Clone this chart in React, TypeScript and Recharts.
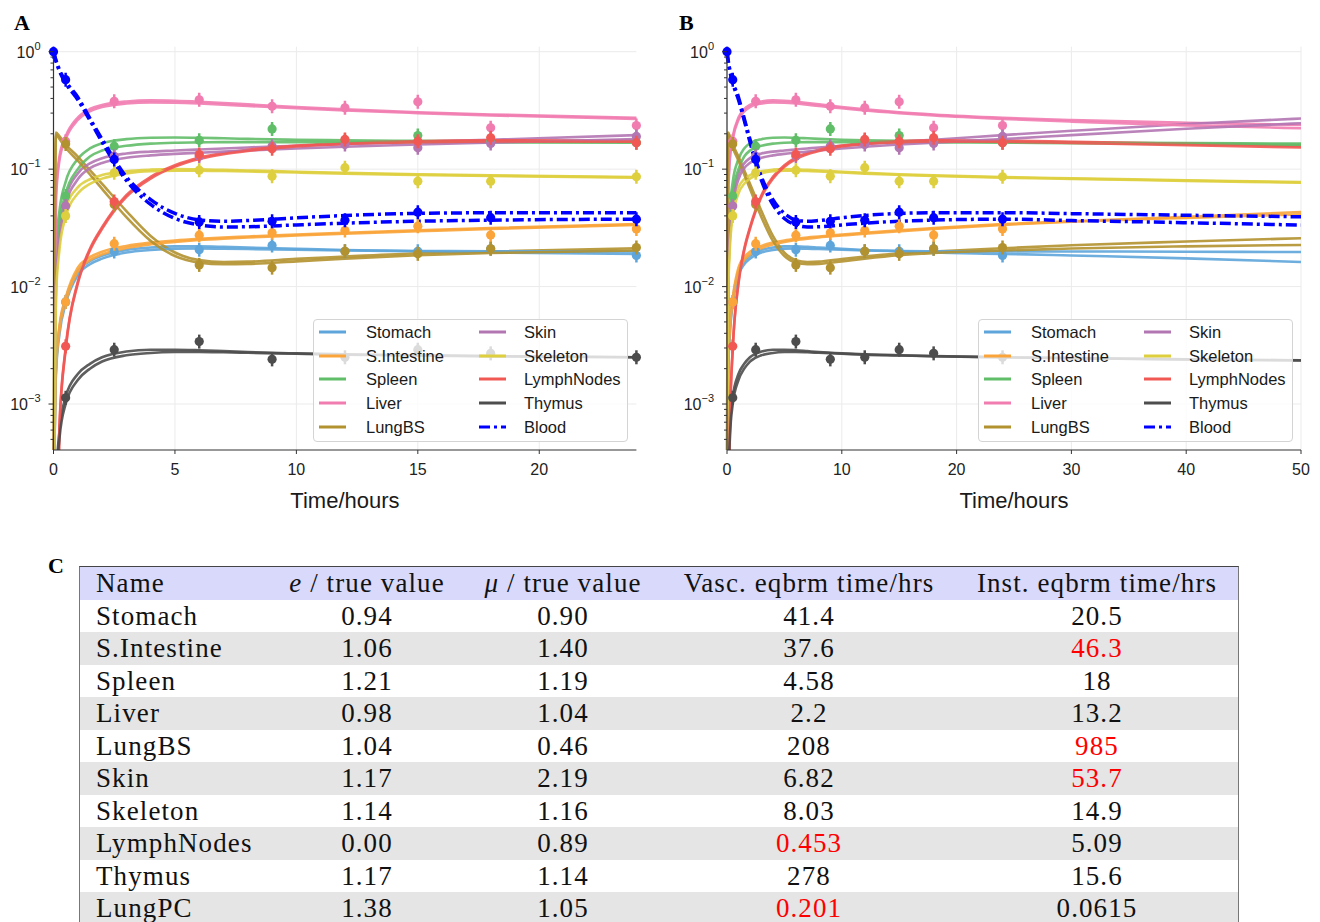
import React from 'react';
import { ComposedChart, Line, Scatter, XAxis, YAxis, CartesianGrid, Legend } from 'recharts';

// ---------- fitted-curve time grid (hours) ----------
const T = [0, 0.1, 0.25, 0.5, 1, 1.5, 2, 3, 4, 5, 6, 7, 8, 10, 12, 15, 18, 24, 30, 40, 50];

const stomach1 = [1e-4, 0.002, 0.0045, 0.0078, 0.0135, 0.0165, 0.0183, 0.0205, 0.0215, 0.022, 0.022, 0.0218, 0.0215, 0.021, 0.0205, 0.02, 0.0195, 0.019, 0.0184, 0.0174, 0.0162];
const stomach2 = [1e-4, 0.0018, 0.004, 0.0071, 0.0125, 0.0155, 0.0173, 0.0195, 0.0205, 0.021, 0.0211, 0.021, 0.0209, 0.0206, 0.0203, 0.0201, 0.02, 0.0199, 0.0199, 0.0198, 0.0197];
const intestine1 = [1e-4, 0.0021, 0.0047, 0.008, 0.0145, 0.0178, 0.0198, 0.0222, 0.0237, 0.0247, 0.0255, 0.0262, 0.0267, 0.0277, 0.0287, 0.0302, 0.0315, 0.034, 0.036, 0.0392, 0.0432];
const intestine2 = [1e-4, 0.0019, 0.0043, 0.0074, 0.0135, 0.0168, 0.0188, 0.0213, 0.0229, 0.024, 0.0249, 0.0256, 0.0262, 0.0272, 0.0282, 0.0296, 0.031, 0.0335, 0.0356, 0.0385, 0.0412];
const spleen1 = [1e-4, 0.02, 0.045, 0.078, 0.122, 0.15, 0.166, 0.18, 0.185, 0.186, 0.185, 0.183, 0.181, 0.178, 0.176, 0.174, 0.173, 0.171, 0.169, 0.167, 0.165];
const spleen2 = [1e-4, 0.015, 0.035, 0.062, 0.1, 0.128, 0.144, 0.158, 0.165, 0.168, 0.169, 0.17, 0.17, 0.17, 0.17, 0.17, 0.169, 0.168, 0.166, 0.164, 0.161];
const liver1 = [1e-4, 0.06, 0.13, 0.19, 0.275, 0.325, 0.352, 0.377, 0.385, 0.382, 0.375, 0.366, 0.356, 0.338, 0.323, 0.305, 0.292, 0.274, 0.262, 0.248, 0.238];
const liver2 = [1e-4, 0.055, 0.12, 0.18, 0.262, 0.31, 0.338, 0.362, 0.37, 0.368, 0.362, 0.354, 0.345, 0.33, 0.316, 0.3, 0.287, 0.268, 0.254, 0.236, 0.223];
const lungbs1 = [1e-4, 0.205, 0.19, 0.162, 0.128, 0.098, 0.075, 0.044, 0.027, 0.0195, 0.0168, 0.0162, 0.0163, 0.0172, 0.018, 0.0192, 0.0199, 0.0212, 0.0225, 0.0242, 0.0258];
const lungbs2 = [1e-4, 0.195, 0.18, 0.152, 0.118, 0.09, 0.068, 0.039, 0.0245, 0.0182, 0.016, 0.0155, 0.0156, 0.0164, 0.0173, 0.0185, 0.0193, 0.0203, 0.0211, 0.022, 0.0226];
const skin1 = [1e-4, 0.012, 0.03, 0.056, 0.092, 0.112, 0.124, 0.136, 0.141, 0.144, 0.147, 0.15, 0.153, 0.158, 0.163, 0.171, 0.178, 0.195, 0.212, 0.242, 0.27];
const skin2 = [1e-4, 0.01, 0.026, 0.049, 0.082, 0.102, 0.113, 0.125, 0.131, 0.135, 0.138, 0.141, 0.144, 0.15, 0.155, 0.162, 0.168, 0.18, 0.195, 0.221, 0.246];
const skeleton1 = [1e-4, 0.01, 0.025, 0.046, 0.07, 0.082, 0.089, 0.096, 0.099, 0.1, 0.0995, 0.0985, 0.0975, 0.095, 0.093, 0.0905, 0.0885, 0.0855, 0.0835, 0.0805, 0.0775];
const skeleton2 = [1e-4, 0.008, 0.021, 0.039, 0.062, 0.075, 0.083, 0.092, 0.096, 0.097, 0.097, 0.0963, 0.0955, 0.0935, 0.0915, 0.0893, 0.0875, 0.0847, 0.0827, 0.0795, 0.0765];
const lymph1 = [1e-5, 1e-5, 0.0007, 0.003, 0.011, 0.021, 0.032, 0.06, 0.086, 0.108, 0.125, 0.137, 0.146, 0.159, 0.167, 0.173, 0.176, 0.175, 0.171, 0.164, 0.157];
const lymph2 = [1e-5, 1e-5, 0.00065, 0.0029, 0.0106, 0.0203, 0.031, 0.058, 0.083, 0.105, 0.122, 0.134, 0.143, 0.156, 0.164, 0.17, 0.172, 0.171, 0.167, 0.16, 0.153];
const thymus1 = [1e-5, 0.0002, 0.0006, 0.00115, 0.0018, 0.0022, 0.0025, 0.0028, 0.0029, 0.0029, 0.00287, 0.00282, 0.00277, 0.0027, 0.00265, 0.0026, 0.00256, 0.0025, 0.00246, 0.0024, 0.00236];
const thymus2 = [1e-5, 0.00018, 0.00052, 0.001, 0.0016, 0.002, 0.0023, 0.0026, 0.00272, 0.00277, 0.00278, 0.00276, 0.00273, 0.00268, 0.00263, 0.00259, 0.00255, 0.0025, 0.00246, 0.0024, 0.00235];
const blood1 = [1.0, 0.85, 0.7, 0.56, 0.41, 0.27, 0.18, 0.086, 0.055, 0.042, 0.037, 0.036, 0.0365, 0.0385, 0.0403, 0.042, 0.0425, 0.0426, 0.0418, 0.0405, 0.0393];
const blood2 = [1.0, 0.83, 0.68, 0.54, 0.39, 0.26, 0.17, 0.08, 0.05, 0.038, 0.0335, 0.0322, 0.0323, 0.0335, 0.0347, 0.036, 0.0368, 0.0375, 0.0365, 0.035, 0.0334];

// ---------- observations ----------
const tObs = [0, 0.5, 2.5, 6, 9, 12, 15, 18, 24];
const stomachObs = [null, 0.0074, 0.0199, 0.0206, 0.0224, 0.02, 0.02, 0.021, 0.0184];
const intestineObs = [null, 0.0074, 0.0232, 0.0274, 0.0287, 0.03, 0.0327, 0.0275, 0.031];
const spleenObs = [null, 0.059, 0.157, 0.176, 0.22, 0.175, 0.193, 0.173, 0.168];
const liverObs = [null, 0.173, 0.378, 0.39, 0.343, 0.333, 0.374, 0.225, 0.235];
const lungbsObs = [null, 0.164, 0.05, 0.0153, 0.0145, 0.02, 0.019, 0.021, 0.0215];
const skinObs = [null, 0.0485, 0.129, 0.129, 0.157, 0.162, 0.152, 0.165, 0.19];
const skeletonObs = [null, 0.04, 0.093, 0.098, 0.087, 0.103, 0.079, 0.079, 0.086];
const lymphObs = [null, 0.0031, 0.053, 0.133, 0.149, 0.179, 0.173, 0.185, 0.168];
const thymusObs = [null, 0.00113, 0.0029, 0.0034, 0.0024, 0.0025, 0.0029, 0.0027, 0.0025];
const bloodObs = [1.0, 0.578, 0.121, 0.0355, 0.036, 0.0367, 0.043, 0.0386, 0.0375];

// ---------- series meta ----------
const organNames = ['Stomach', 'S.Intestine', 'Spleen', 'Liver', 'LungBS', 'Skin', 'Skeleton', 'LymphNodes', 'Thymus', 'Blood'];
const organKeys = ['stomach', 'intestine', 'spleen', 'liver', 'lungbs', 'skin', 'skeleton', 'lymph', 'thymus', 'blood'];
const organColors = ['#5DA5DA', '#FAA43A', '#60BD68', '#F17CB0', '#B2912F', '#B276B2', '#DECF3F', '#F15854', '#4D4D4D', '#0000FF'];
const fits1 = [stomach1, intestine1, spleen1, liver1, lungbs1, skin1, skeleton1, lymph1, thymus1, blood1];
const fits2 = [stomach2, intestine2, spleen2, liver2, lungbs2, skin2, skeleton2, lymph2, thymus2, blood2];
const obsAll = [stomachObs, intestineObs, spleenObs, liverObs, lungbsObs, skinObs, skeletonObs, lymphObs, thymusObs, bloodObs];

// ---------- axes ----------
const xTicksA = [0, 5, 10, 15, 20];
const xTicksB = [0, 10, 20, 30, 40, 50];
const yMajorTicks = [0.001, 0.01, 0.1, 1];
const yMajorLabels = ['\u22123', '\u22122', '\u22121', '0'];
const yMinorTicks = [0.0005, 0.0006, 0.0007, 0.0008, 0.0009, 0.002, 0.003, 0.004, 0.005, 0.006, 0.007, 0.008, 0.009,
  0.02, 0.03, 0.04, 0.05, 0.06, 0.07, 0.08, 0.09, 0.2, 0.3, 0.4, 0.5, 0.6, 0.7, 0.8, 0.9];
const yDomain = [4.06e-4, 1.103];

// ---------- table ----------
const tableHeaders = ['Name', 'e / true value', '\u03bc / true value', 'Vasc. eqbrm time/hrs', 'Inst. eqbrm time/hrs'];
const tableNames = ['Stomach', 'S.Intestine', 'Spleen', 'Liver', 'LungBS', 'Skin', 'Skeleton', 'LymphNodes', 'Thymus', 'LungPC'];
const eRatio = ['0.94', '1.06', '1.21', '0.98', '1.04', '1.17', '1.14', '0.00', '1.17', '1.38'];
const muRatio = ['0.90', '1.40', '1.19', '1.04', '0.46', '2.19', '1.16', '0.89', '1.14', '1.05'];
const vascTime = ['41.4', '37.6', '4.58', '2.2', '208', '6.82', '8.03', '0.453', '278', '0.201'];
const instTime = ['20.5', '46.3', '18', '13.2', '985', '53.7', '14.9', '5.09', '15.6', '0.0615'];
const vascRed = [false, false, false, false, false, false, false, true, false, true];
const instRed = [false, true, false, false, true, true, false, false, false, false];

// ---------- build data ----------
const fitRows = T.map((t, i) => {
  const row: any = { t };
  organKeys.forEach((k, j) => {
    row[k + '1'] = fits1[j][i];
    row[k + '2'] = fits2[j][i];
  });
  return row;
});
const obsSeries = organKeys.map((k, j) =>
  tObs.map((t, i) => ({ t, v: obsAll[j][i] })).filter((p) => p.v !== null)
);

const isMajor = (v: number) => Math.abs(Math.log10(v) - Math.round(Math.log10(v))) < 1e-6;

const YTick = (props: any) => {
  const { x, y, payload } = props;
  const v = payload.value;
  const major = isMajor(v);
  const idx = yMajorTicks.findIndex((m) => Math.abs(Math.log10(m) - Math.log10(v)) < 1e-6);
  return (
    <g>
      <line x1={x} x2={x - (major ? 5 : 3)} y1={y} y2={y} stroke="#333" strokeWidth={1} />
      {major && idx >= 0 && (
        <text x={x - 13} y={y + 6} textAnchor="end" fontSize={16} fill="#222" fontFamily="Liberation Sans, Arial, sans-serif">
          <tspan>10</tspan>
          <tspan dy={-8} fontSize={11}>{yMajorLabels[idx]}</tspan>
        </text>
      )}
    </g>
  );
};

const Marker = (props: any) => {
  const { cx, cy, fill } = props;
  if (cx == null || cy == null) return null;
  return (
    <g>
      <line x1={cx} x2={cx} y1={cy - 7} y2={cy + 7} stroke={fill} strokeWidth={2.5} />
      <circle cx={cx} cy={cy} r={4.6} fill={fill} />
    </g>
  );
};

const LegendBox = () => (
  <div
    style={{
      position: 'relative', width: 315, height: 123, boxSizing: 'border-box',
      background: 'rgba(255,255,255,0.8)', border: '1px solid #d4d4d4', borderRadius: 4,
      fontFamily: 'Liberation Sans, Arial, sans-serif', fontSize: 16.5, color: '#1a1a1a',
    }}
  >
    {organNames.map((name, i) => {
      const col = Math.floor(i / 5);
      const row = i % 5;
      const top = 12 + row * 23.7;
      const dashed = organKeys[i] === 'blood';
      return (
        <React.Fragment key={name}>
          <svg style={{ position: 'absolute', left: 4 + col * 160, top: top - 4 }} width={29} height={8}>
            <line x1={1} x2={28} y1={4} y2={4} stroke={organColors[i]} strokeWidth={3}
              strokeDasharray={dashed ? '11 4 3 4' : undefined} />
          </svg>
          <div style={{ position: 'absolute', left: 52 + col * 158, top: top - 10, lineHeight: '20px', whiteSpace: 'nowrap' }}>
            {name}
          </div>
        </React.Fragment>
      );
    })}
  </div>
);

const Panel = ({ xMax, xTicks, width, yAxisWidth, rightMargin, legendLeft }: any) => {
  const data = fitRows.filter((r) => r.t <= xMax);
  const order = [0, 1, 2, 3, 4, 5, 6, 7, 8];
  return (
    <ComposedChart width={width} height={520} data={data}
      margin={{ top: 38.7, right: rightMargin, bottom: 8, left: 0 }}
      style={{ fontFamily: 'Liberation Sans, Arial, sans-serif' }}>
      <CartesianGrid stroke="#ebebeb" strokeWidth={1} horizontalValues={yMajorTicks} verticalValues={xTicks} />
      <XAxis dataKey="t" type="number" domain={[0, xMax]} ticks={xTicks} interval={0}
        tick={{ fontSize: 16, fill: '#222' }} tickSize={4} tickMargin={10}
        axisLine={{ stroke: '#333', strokeWidth: 1.2 }} tickLine={{ stroke: '#333' }} height={70}
        label={(p: any) => {
          const vb = p.viewBox;
          return (
            <text x={vb.x + vb.width / 2} y={vb.y + 58} textAnchor="middle" fontSize={22} fill="#1a1a1a"
              fontFamily="Liberation Sans, Arial, sans-serif">Time/hours</text>
          );
        }} />
      <XAxis xAxisId="top" orientation="top" type="number" domain={[0, 1]} tick={false} tickLine={false}
        height={0} axisLine={{ stroke: '#333', strokeWidth: 1.2 }} />
      <YAxis type="number" scale="log" domain={yDomain} allowDataOverflow ticks={[...yMajorTicks, ...yMinorTicks]}
        interval={0} tick={<YTick />} tickLine={false} tickSize={0} tickMargin={0} width={yAxisWidth}
        axisLine={{ stroke: '#333', strokeWidth: 1.2 }} />
      <YAxis yAxisId="r" orientation="right" type="number" domain={[0, 1]} tick={false} tickLine={false}
        width={0} axisLine={{ stroke: '#333', strokeWidth: 1.2 }} />
      {order.map((j) => (
        <Line key={organKeys[j] + '1'} type="monotone" dataKey={organKeys[j] + '1'} stroke={organColors[j]}
          strokeWidth={2.6} dot={false} activeDot={false} isAnimationActive={false} strokeOpacity={0.9} />
      ))}
      {order.map((j) => (
        <Line key={organKeys[j] + '2'} type="monotone" dataKey={organKeys[j] + '2'} stroke={organColors[j]}
          strokeWidth={2.6} dot={false} activeDot={false} isAnimationActive={false} strokeOpacity={0.9} />
      ))}
      {order.map((j) => (
        <Scatter key={organKeys[j] + 'obs'} data={obsSeries[j]} dataKey="v" fill={organColors[j]}
          shape={<Marker />} isAnimationActive={false} />
      ))}
      <Line type="monotone" dataKey="blood1" stroke="#0000FF" strokeWidth={3.5} strokeDasharray="11 4 3 4"
        dot={false} activeDot={false} isAnimationActive={false} />
      <Line type="monotone" dataKey="blood2" stroke="#0000FF" strokeWidth={3.5} strokeDasharray="11 4 3 4"
        dot={false} activeDot={false} isAnimationActive={false} />
      <Scatter data={obsSeries[9]} dataKey="v" fill="#0000FF" shape={<Marker />} isAnimationActive={false} />
      <Legend layout="horizontal" verticalAlign="middle" align="center" content={() => <LegendBox />}
        wrapperStyle={{ left: legendLeft, top: 311, width: 315, height: 123 }} />
    </ComposedChart>
  );
};

const cellFont: React.CSSProperties = {
  fontFamily: '"Liberation Serif", "Times New Roman", serif', fontSize: 27, letterSpacing: 1.1, color: '#111',
};
const colCenters = [0, 287, 483, 729, 1017];

const TableRow = ({ cells, bg, reds, height }: any) => (
  <div style={{ position: 'relative', height, background: bg }}>
    {cells.map((c: any, i: number) => (
      <div key={i} style={{
        ...cellFont, position: 'absolute', top: 0, height, lineHeight: height + 'px', whiteSpace: 'nowrap',
        left: i === 0 ? 16 : colCenters[i] - 150, width: i === 0 ? 250 : 300, textAlign: i === 0 ? 'left' : 'center',
        color: reds && reds[i] ? '#ff0000' : '#111',
      }}>{c}</div>
    ))}
  </div>
);

export default function App() {
  const headerCells = [
    tableHeaders[0],
    <span><i>e</i>{tableHeaders[1].slice(1)}</span>,
    <span><i>{'\u03bc'}</i>{tableHeaders[2].slice(1)}</span>,
    tableHeaders[3],
    tableHeaders[4],
  ];
  return (
    <div style={{ position: 'relative', width: 1304, height: 914, overflow: 'hidden' }}>
      <div style={{ position: 'absolute', left: 0, top: 0 }}>
        <Panel xMax={24} xTicks={xTicksA} width={650} yAxisWidth={45.5} rightMargin={21.6} legendLeft={305} />
      </div>
      <div style={{ position: 'absolute', left: 652, top: 0 }}>
        <Panel xMax={50} xTicks={xTicksB} width={655} yAxisWidth={67} rightMargin={14} legendLeft={318} />
      </div>
      <div style={{ position: 'absolute', left: 6, top: 2, fontFamily: '"Liberation Serif", serif', fontWeight: 'bold', fontSize: 22 }}>A</div>
      <div style={{ position: 'absolute', left: 671, top: 2, fontFamily: '"Liberation Serif", serif', fontWeight: 'bold', fontSize: 22 }}>B</div>
      <div style={{ position: 'absolute', left: 40, top: 545, fontFamily: '"Liberation Serif", serif', fontWeight: 'bold', fontSize: 22 }}>C</div>
      <div style={{
        position: 'absolute', left: 71, top: 558, width: 1160, boxSizing: 'border-box',
        borderTop: '1.5px solid #444', borderLeft: '1px solid #777', borderRight: '1px solid #777',
      }}>
        <TableRow cells={headerCells} bg="#d9d9fb" height={32.6} />
        {tableNames.map((n, i) => (
          <TableRow key={n} cells={[n, eRatio[i], muRatio[i], vascTime[i], instTime[i]]}
            bg={i % 2 === 1 ? '#e5e5e5' : '#ffffff'} reds={[false, false, false, vascRed[i], instRed[i]]} height={32.5} />
        ))}
      </div>
    </div>
  );
}
